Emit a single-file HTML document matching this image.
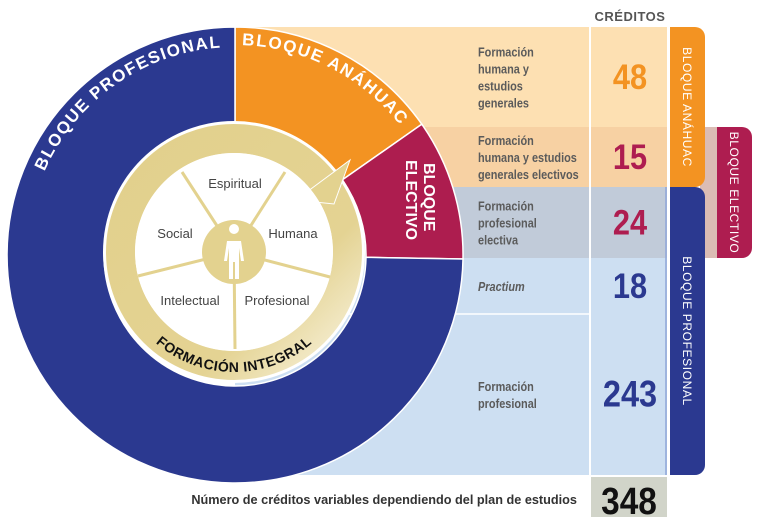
<!DOCTYPE html>
<html><head><meta charset="utf-8"><style>
html,body{margin:0;padding:0;background:#fff;}
svg{display:block;font-family:"Liberation Sans",sans-serif;}
</style></head><body>
<svg id="chart" width="757" height="526" viewBox="0 0 757 526">
<defs>
<linearGradient id="ringGrad" x1="0" y1="0" x2="1" y2="1">
<stop offset="0" stop-color="#e2d08c"/><stop offset="0.7" stop-color="#e4d393"/><stop offset="1" stop-color="#f8f2dc"/>
</linearGradient>
<path id="arcProf" d="M 39.5 183.9 A 208 208 0 0 1 235 47"/>
<path id="arcAna" d="M 235 45 A 210 210 0 0 1 404.9 131.6"/>
<path id="arcInt" d="M 114 252 A 120 120 0 0 0 354 252"/>
</defs>
<g id="rows"></g>
<g id="pie"></g>
<g id="inner"></g>
<g id="tabs"></g>
</svg>
<script>
const rowLabels=[["Formación","humana y","estudios","generales"],["Formación","humana y estudios","generales electivos"],["Formación","profesional","electiva"],["Practium"],["Formación","profesional"]];
const credits=[48,15,24,18,243];
const totalCredits=348;
const rowColors=["#fde0b2","#f7d1a3","#c1cbd9","#cddff2","#cddff2"];
const numColors=["#f39322","#ae1d50","#ae1d50","#2b3990","#2b3990"];
const rowBounds=[27,127,187,258,314,475];
const NS="http://www.w3.org/2000/svg";
function mk(tag,attrs,parent,txt){const e=document.createElementNS(NS,tag);for(const k in attrs)e.setAttribute(k,attrs[k]);if(txt!==undefined)e.textContent=txt;parent.appendChild(e);return e;}
const rows=document.getElementById('rows');
let tan=mk('rect',{x:700,y:127,width:30,height:131,fill:"#dbbcb4"},rows);


for(let i=0;i<credits.length;i++){
  const y0=rowBounds[i],y1=rowBounds[i+1];
  const r=mk('rect',{x:235,y:y0,width:432,height:y1-y0,fill:rowColors[i]},rows);
  
  
  const n=rowLabels[i].length;const lh=17;const mid=(y0+y1)/2;
  const t=mk('text',{x:0,y:mid-(n-1)*lh/2+5,fill:"#5b5b5b","font-size":13,"font-weight":"bold","font-style":i===3?"italic":"normal",transform:"translate(478,0) scale(0.84,1)"},rows);
  
  
  rowLabels[i].forEach((s,j)=>{mk('tspan',{x:0,dy:j?lh:0},t,s);});
  const v=mk('text',{x:0,y:mid+12,fill:numColors[i],"font-size":i===4?37:35,"font-weight":"bold","text-anchor":"middle",transform:"translate(630,0) scale(0.88,1)"},rows,String(credits[i]));
  
  
}
mk('line',{x1:235,y1:314,x2:590,y2:314,stroke:"#fff","stroke-width":1.5},rows);
mk('line',{x1:590,y1:27,x2:590,y2:517,stroke:"#fff","stroke-width":2},rows);
mk('line',{x1:666,y1:187,x2:666,y2:475,stroke:"#8fa6d8","stroke-width":1.5},rows);
let ch=mk('text',{x:630,y:21,fill:"#555","font-size":13,"font-weight":"bold","text-anchor":"middle","letter-spacing":"0.5"},rows,"CRÉDITOS");

let tb=mk('rect',{x:591,y:477,width:76,height:40,fill:"#d1d4c9"},rows);

let tt=mk('text',{x:0,y:514,fill:"#111","font-size":38,"font-weight":"bold","text-anchor":"middle",transform:"translate(629,0) scale(0.88,1)"},rows,String(totalCredits));

let tl=mk('text',{x:577,y:504,fill:"#333","font-size":12.7,"font-weight":"bold","text-anchor":"end"},rows,"Número de créditos variables dependiendo del plan de estudios");


const pie=document.getElementById('pie');
const cx=235,cy=255,R=228,ri=131;
function seg(a0,a1,col,name){
  const r=Math.PI/180,large=(a1-a0)>180?1:0;
  const p=(rad,a)=>[(cx+rad*Math.cos(a*r)).toFixed(1),(cy+rad*Math.sin(a*r)).toFixed(1)];
  const o0=p(R,a0),o1=p(R,a1),i1=p(ri,a1),i0=p(ri,a0);
  const d=`M${o0} A${R} ${R} 0 ${large} 1 ${o1} L${i1} A${ri} ${ri} 0 ${large} 0 ${i0} Z`;
  const e=mk('path',{d:d,fill:col,stroke:"#fff","stroke-width":1.5},pie);
  
}
seg(-90,-35,"#f39322","segment-anahuac");
seg(-35,1,"#ad1d4f","segment-electivo");
seg(1,270,"#2b3990","segment-profesional");
let t1=mk('text',{fill:"#fff","font-size":17,"font-weight":"bold","letter-spacing":"1.5","text-anchor":"middle"},pie);
mk('textPath',{href:"#arcProf",startOffset:"50%"},t1,"BLOQUE PROFESIONAL");

let t2=mk('text',{fill:"#fff","font-size":17,"font-weight":"bold","letter-spacing":"1.5","text-anchor":"middle"},pie);
mk('textPath',{href:"#arcAna",startOffset:"50%"},t2,"BLOQUE ANÁHUAC");

let t3=mk('text',{fill:"#fff","font-size":16,"font-weight":"bold",transform:"translate(410,163) rotate(90)","text-anchor":"start"},pie);
mk('tspan',{x:0,y:-14},t3,"BLOQUE");mk('tspan',{x:-3,y:4},t3,"ELECTIVO");


const inner=document.getElementById('inner');
const ix=234,iy=252;
mk('circle',{cx:ix,cy:iy,r:131,fill:"#fff"},inner);
mk('circle',{cx:ix,cy:iy,r:113.5,fill:"none",stroke:"url(#ringGrad)","stroke-width":29},inner);
let ar=mk('polygon',{points:"350,160 296,200 334,204",fill:"#e3d28f",stroke:"#fff","stroke-width":1},inner);

mk('circle',{cx:ix,cy:iy,r:99,fill:"#fff"},inner);
[[182,172],[285,172],[138,276],[330,277],[235,349]].forEach(q=>mk('line',{x1:ix,y1:iy,x2:q[0],y2:q[1],stroke:"#e3d28f","stroke-width":3},inner));
mk('circle',{cx:ix,cy:iy,r:32,fill:"#e3d28f"},inner);
let man=mk('path',{d:"M234 229 m-5 0 a5 5 0 1 0 10 0 a5 5 0 1 0 -10 0 M227 241 h14 l3 20 h-3 l-2 -13 v31 h-4 v-17 h-2 v17 h-4 v-31 l-2 13 h-3 Z",fill:"#fff"},inner);

[["Espiritual",235,188],["Social",175,238],["Humana",293,238],["Intelectual",190,305],["Profesional",277,305]].forEach(a=>{
  const e=mk('text',{x:a[1],y:a[2],fill:"#444","font-size":13,"text-anchor":"middle"},inner,a[0]);
  
});
let fi=mk('text',{fill:"#111","font-size":14,"font-weight":"bold","text-anchor":"middle","letter-spacing":"0.5"},inner);
mk('textPath',{href:"#arcInt",startOffset:"50%"},fi,"FORMACIÓN INTEGRAL");


const tabs=document.getElementById('tabs');
function tab(x,y,h,col,label,name){
  const d=`M${x} ${y} h25 a10 10 0 0 1 10 10 v${h-20} a10 10 0 0 1 -10 10 h-25 Z`;
  const e=mk('path',{d:d,fill:col},tabs);
  
  const t=mk('text',{transform:`translate(${x+13},${y+h/2}) rotate(90)`,fill:"#fff","font-size":12,"text-anchor":"middle","letter-spacing":"0.6"},tabs,label);
  
}
tab(717,127,131,"#ae1d50","BLOQUE ELECTIVO","tab-bloque-electivo");
tab(670,27,160,"#f39322","BLOQUE ANÁHUAC","tab-bloque-anahuac");
tab(670,187,288,"#2b3990","BLOQUE PROFESIONAL","tab-bloque-profesional");
</script>
</body></html>
